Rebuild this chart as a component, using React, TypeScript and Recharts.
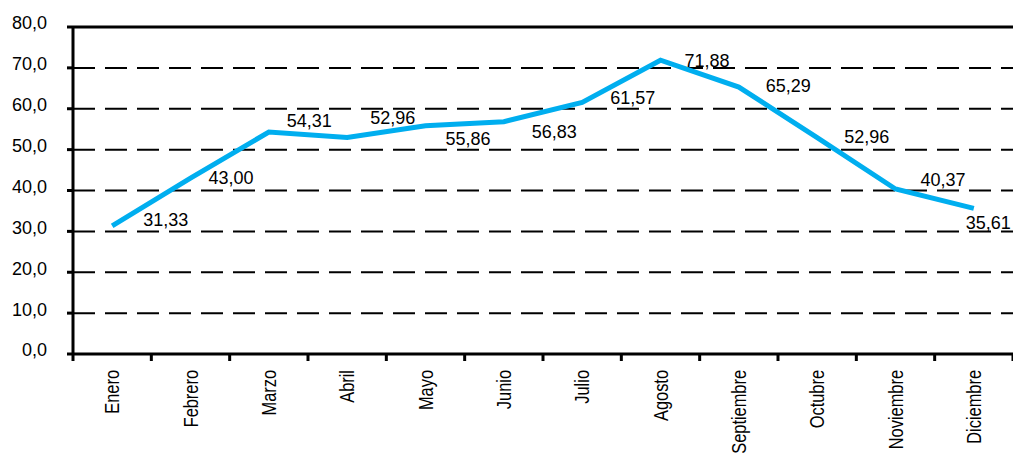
import React from 'react';
import { ComposedChart, Line, XAxis, YAxis, CartesianGrid, ReferenceLine, LabelList } from 'recharts';

const months = [
  'Enero', 'Febrero', 'Marzo', 'Abril', 'Mayo', 'Junio',
  'Julio', 'Agosto', 'Septiembre', 'Octubre', 'Noviembre', 'Diciembre',
];
const values = [31.33, 43.0, 54.31, 52.96, 55.86, 56.83, 61.57, 71.88, 65.29, 52.96, 40.37, 35.61];
const yTicks = [0, 10, 20, 30, 40, 50, 60, 70, 80];
const gridValues = [10, 20, 30, 40, 50, 60, 70];

const data = months.map((month, i) => ({ month, value: values[i] }));

const W = 1013;
const H = 457;
const LEFT = 73;
const BAND = (W - LEFT) / months.length;
const FONT = "'Liberation Sans', Arial, sans-serif";

// where each value label sits relative to its point (as in the original)
const labelNudge = [
  [31, -6], [18, -1], [18, -11], [23, -20], [20, 13], [28, 10],
  [28, -5], [24, 0], [27, -2], [27, -1], [25, -9], [-8, 14],
];

const fmt = (v: number, d: number) => v.toFixed(d).replace('.', ',');

const MonthTick = (props: any) => {
  const { x, y, payload, index } = props;
  const left = x - BAND / 2;
  return (
    <g>
      <line x1={left} y1={y - 8} x2={left} y2={y - 1} stroke="#000" strokeWidth={3} />
      {index === months.length - 1 && (
        <line x1={x + BAND / 2} y1={y - 8} x2={x + BAND / 2} y2={y - 1} stroke="#000" strokeWidth={3} />
      )}
      {/* narrow look, like Arial Narrow */}
      <text
        transform={`translate(${x},${y + 8}) rotate(-90) scale(0.82,1)`}
        textAnchor="end"
        dy="0.35em"
        fontFamily={FONT}
        fontSize={20}
        fill="#000"
      >
        {payload.value}
      </text>
    </g>
  );
};

const ValueTick = (props: any) => {
  const { x, y, payload } = props;
  return (
    <text x={x} y={y - 4} dy="0.355em" textAnchor="end" fontFamily={FONT} fontSize={18} fill="#000">
      {fmt(payload.value, 1)}
    </text>
  );
};

const ValueLabel = (props: any) => {
  const { x, y, value, index } = props;
  const [dx, dy] = labelNudge[index] || [20, 0];
  return (
    <text x={x + dx} y={y + dy} dy="0.355em" textAnchor="start" fontFamily={FONT} fontSize={18} fill="#000">
      {fmt(value, 2)}
    </text>
  );
};

export default function App() {
  return (
    <div style={{ width: W, height: H, background: '#fff' }}>
      <style>{'body{margin:0}'}</style>
      <ComposedChart width={W} height={H} data={data} margin={{ top: 27, right: 0, bottom: 0, left: 0 }}>
        <CartesianGrid
          vertical={false}
          horizontalValues={gridValues}
          stroke="#000"
          strokeWidth={2}
          strokeDasharray="22 10"
        />
        <XAxis
          dataKey="month"
          height={103}
          interval={0}
          padding={{ left: BAND / 2, right: BAND / 2 }}
          tickLine={false}
          axisLine={{ stroke: '#000', strokeWidth: 3 }}
          tick={<MonthTick />}
        />
        <YAxis
          width={LEFT}
          domain={[0, 80]}
          ticks={yTicks}
          interval={0}
          tickSize={6}
          tickMargin={20}
          tickLine={{ stroke: '#000', strokeWidth: 3 }}
          axisLine={{ stroke: '#000', strokeWidth: 3 }}
          tick={<ValueTick />}
        />
        <ReferenceLine y={80} stroke="#000" strokeWidth={3} />
        <Line
          type="linear"
          dataKey="value"
          stroke="#00AEEF"
          strokeWidth={5}
          dot={false}
          isAnimationActive={false}
        >
          <LabelList dataKey="value" content={<ValueLabel />} />
        </Line>
      </ComposedChart>
    </div>
  );
}
